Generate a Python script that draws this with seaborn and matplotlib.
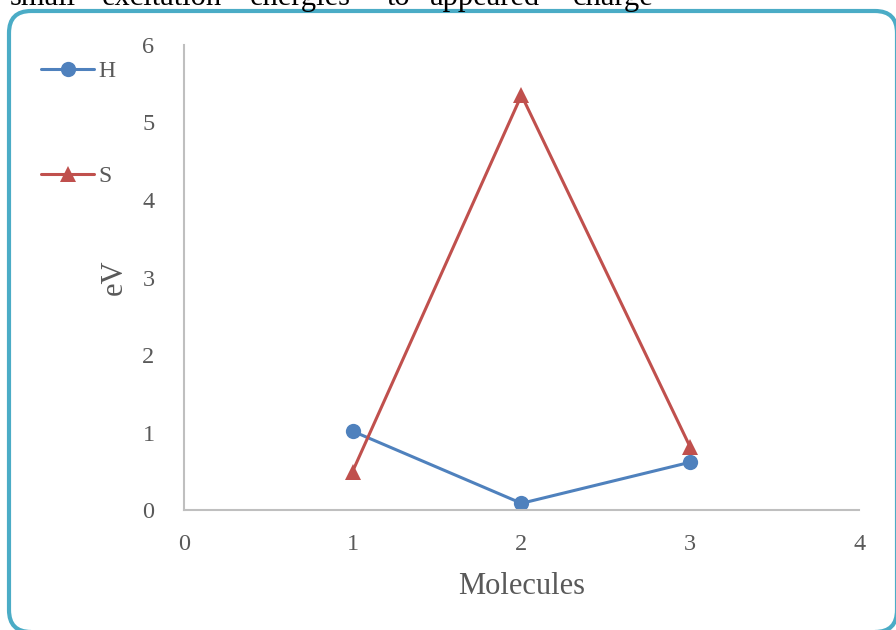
import pandas as pd
import seaborn as sns
import matplotlib.pyplot as plt
from matplotlib.patches import FancyBboxPatch
from matplotlib.transforms import IdentityTransform
#
# data
molecules = [1, 2, 3]
h_values = [1.02, 0.09, 0.62]
s_values = [0.50, 5.35, 0.81]
series_names = ["H", "S"]
x_ticks = [0, 1, 2, 3, 4]
y_ticks = [0, 1, 2, 3, 4, 5, 6]
caption_words = ["small", "excitation", "energies", "to", "appeared", "charge"]
#
df = pd.DataFrame({
    "Molecules": molecules * 2,
    "eV": h_values + s_values,
    "series": [series_names[0]] * 3 + [series_names[1]] * 3,
})
#
sns.set_style("white")
plt.rcParams["font.family"] = ["Liberation Serif", "DejaVu Serif"]
#
fig = plt.figure(figsize=(8.96, 6.3), dpi=100)
ax = fig.add_axes([0.205, 0.19, 0.754, 0.739])
#
sns.lineplot(data=df, x="Molecules", y="eV", hue="series", style="series",
             palette={"H": "#4F81BD", "S": "#C0504D"},
             markers={"H": "o", "S": "^"}, dashes=False,
             markersize=11, markeredgewidth=0, linewidth=2.2, ax=ax, legend=True)
#
ax.set_xlim(0, 4)
ax.set_ylim(0, 6)
ax.set_xticks(x_ticks)
ax.set_yticks(y_ticks)
ax.tick_params(axis="both", length=0, labelsize=17.5, labelcolor="#595959")
ax.tick_params(axis="x", pad=17)
ax.tick_params(axis="y", pad=21)
for side in ["top", "right"]:
    ax.spines[side].set_visible(False)
for side in ["left", "bottom"]:
    ax.spines[side].set_color("#BFBFBF")
    ax.spines[side].set_linewidth(1.5)
ax.set_xlabel("Molecules", fontsize=22, color="#595959", labelpad=12)
ax.set_ylabel("eV", fontsize=22, color="#595959", labelpad=10)
#
# legend moved out to the left edge
handles, labels = ax.get_legend_handles_labels()
ax.get_legend().remove()
fig.legend(handles, labels, loc="upper left", bbox_to_anchor=(0.022, 0.938),
           frameon=False, fontsize=17, handlelength=2.25, labelspacing=3.55,
           handletextpad=0.2, labelcolor="#595959")
#
# rounded teal frame
frame = FancyBboxPatch((9, -2), 888, 621, boxstyle="round,pad=0,rounding_size=22",
                       transform=IdentityTransform(), fill=False,
                       edgecolor="#4BACC6", linewidth=3, clip_on=False)
fig.patches.append(frame)
#
# clipped caption line from the page above
word_px = [10, 102, 250, 387, 430, 573]
for w, xpx in zip(caption_words, word_px):
    fig.text(xpx / 896, 1.0 - 5 / 630, w, fontsize=22, color="black", va="baseline", ha="left")
#
fig.savefig("out.png", dpi=100)
